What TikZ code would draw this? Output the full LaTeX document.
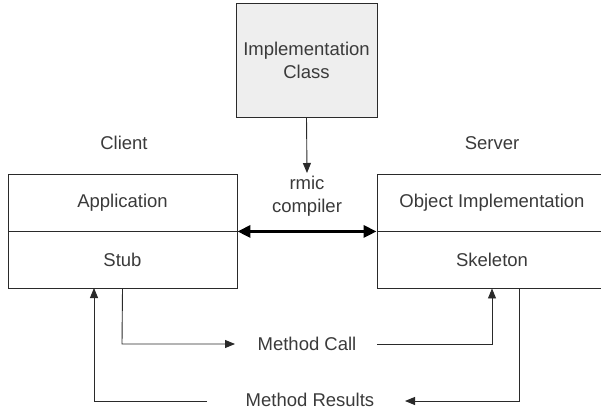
\documentclass[tikz,border=0pt]{standalone}
\usepackage{fontspec}
\setmainfont{Liberation Sans}
\usetikzlibrary{arrows.meta}
\definecolor{txt}{HTML}{3A3A3A}
\definecolor{ln}{HTML}{2A2A2A}
\definecolor{boxfill}{HTML}{EEEEEE}
\begin{document}
\begin{tikzpicture}[x=1pt,y=-1pt,
  every node/.style={font=\fontsize{18.5}{23}\selectfont, text=txt},
  part/.style={draw=ln, line width=0.9pt, minimum height=57pt, inner sep=0pt, anchor=center},
  lbl/.style={inner sep=0pt},
  conn/.style={draw=ln, line width=0.9pt, -{Triangle[length=10pt,width=8pt]}},
  thick2/.style={draw=black, line width=3pt, {Triangle[length=13pt,width=12pt]}-{Triangle[length=13pt,width=12pt]}}
]
\useasboundingbox (0,0) rectangle (601,411);
% Implementation class
\node[draw=ln, line width=0.9pt, fill=boxfill, minimum width=141pt, minimum height=114pt, inner sep=0pt,
  align=center] (impl) at (306.5,60) {Implementation\\Class};
% Client
\node[lbl] (client) at (124,143) {Client};
\node[part, minimum width=229pt] (app) at (122.5,202.5) {Application};
\node[part, minimum width=229pt] (stub) at (122.5,259.5) {Stub};
% Server
\node[lbl] (server) at (492,143) {Server};
\node[part, minimum width=230pt] (obj) at (492,202.5) {Object Implementation};
\node[part, minimum width=230pt] (skel) at (492,259.5) {Skeleton};
% rmic compiler
\node[lbl, align=center] (rmic) at (307,196) {rmic\\compiler};
\coordinate (rmictip) at (307,173);
\draw[conn] (impl.south) -- (rmictip);
\draw[thick2] (app.south east) -- (obj.south west);
% method call
\node[lbl] (call) at (307,344) {Method Call};
\node[lbl] (res) at (310,400) {Method Results};
\coordinate (callL) at (235,344);
\coordinate (callR) at (377,344);
\coordinate (resR) at (405,401);
\coordinate (resL) at (207,401);
\draw[conn] (stub.south) -- (122,344) -- (callL);
\draw[conn] (callR) -- (492,344) -- (skel.south);
\draw[conn] (519,288) -- (519,401) -- (resR);
\draw[conn] (resL) -- (94,401) -- (94,288);
\end{tikzpicture}
\end{document}
